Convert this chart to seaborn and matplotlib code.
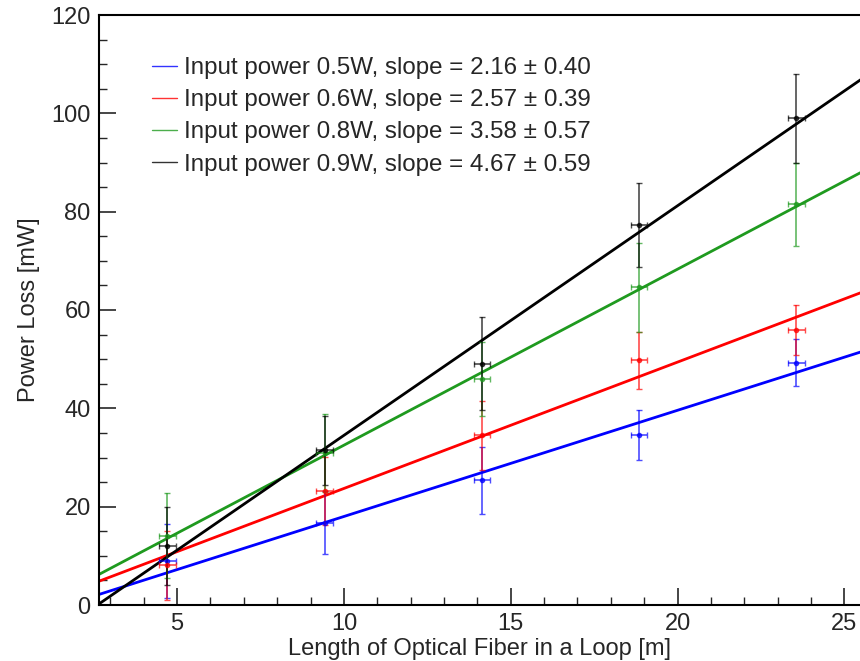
import numpy as np
import pandas as pd
import matplotlib
matplotlib.use("Agg")
import matplotlib.pyplot as plt
import seaborn as sns
from matplotlib.ticker import MultipleLocator
from matplotlib.lines import Line2D

# ---- data ----
fiber_length = [4.71, 9.42, 14.14, 18.85, 23.56]
length_err = [0.25, 0.25, 0.25, 0.25, 0.25]

power_labels = ["0.5W", "0.6W", "0.8W", "0.9W"]
loss_05 = [9.0, 16.7, 25.4, 34.5, 49.3]
err_05 = [7.5, 6.4, 6.8, 5.1, 4.8]
loss_06 = [8.1, 23.2, 34.5, 49.8, 55.9]
err_06 = [7.0, 7.0, 7.0, 5.8, 5.1]
loss_08 = [14.1, 30.9, 45.9, 64.6, 81.5]
err_08 = [8.7, 7.9, 7.5, 9.0, 8.5]
loss_09 = [12.0, 31.5, 49.1, 77.3, 99.0]
err_09 = [8.0, 7.0, 9.4, 8.5, 9.1]

fit_slopes = [2.16, 2.57, 3.58, 4.67]
fit_slope_errs = [0.40, 0.39, 0.57, 0.59]
fit_intercepts = [-3.6, -2.0, -3.3, -12.2]

colors = ["#0000ff", "#ff0000", "#1f9a1f", "#000000"]
x_min, x_max = 2.66, 25.5

sns.set_style("white")
plt.rcParams["font.family"] = ["Liberation Sans", "DejaVu Sans"]

fig = plt.figure(figsize=(8.6, 6.61), dpi=100)
ax = fig.add_axes([99 / 860, 1 - 605 / 661, 762 / 860, 590 / 661])

# fit lines via seaborn
xs = np.linspace(x_min, x_max, 50)
rows = []
for lab, s, se, b in zip(power_labels, fit_slopes, fit_slope_errs, fit_intercepts):
    name = f"Input power {lab}, slope = {s:.2f} \u00b1 {se:.2f}"
    for xv in xs:
        rows.append({"x": xv, "y": s * xv + b, "series": name})
fit_df = pd.DataFrame(rows)
sns.lineplot(data=fit_df, x="x", y="y", hue="series", palette=colors,
             linewidth=2.0, ax=ax, legend=False, zorder=2)

series = [(loss_05, err_05), (loss_06, err_06), (loss_08, err_08), (loss_09, err_09)]
for (ys, es), c in zip(series, colors):
    ax.errorbar(fiber_length, ys, yerr=es, xerr=length_err, fmt="o", color=c,
                markersize=3, elinewidth=1.2, capsize=2.5, capthick=1.0,
                alpha=0.7, zorder=3)

# legend
handles = [Line2D([0], [0], color=c, lw=1.0, alpha=0.8) for c in colors]
labels = [f"Input power {lab}, slope = {s:.2f} \u00b1 {se:.2f}"
          for lab, s, se in zip(power_labels, fit_slopes, fit_slope_errs)]
ax.legend(handles, labels, loc="upper left", bbox_to_anchor=(0.057, 0.945),
          frameon=False, fontsize=17.4, handlelength=1.05, handletextpad=0.28,
          labelspacing=0.42, borderaxespad=0)

ax.set_xlim(x_min, x_max)
ax.set_ylim(0, 120)
ax.xaxis.set_major_locator(MultipleLocator(5))
ax.xaxis.set_minor_locator(MultipleLocator(1))
ax.yaxis.set_major_locator(MultipleLocator(20))
ax.yaxis.set_minor_locator(MultipleLocator(5))
ax.tick_params(which="major", direction="in", length=12, width=1.2,
               labelsize=17, pad=6, bottom=True, left=True)
ax.tick_params(which="minor", direction="in", length=6, width=1.0,
               bottom=True, left=True)
for side in ["left", "bottom", "top"]:
    ax.spines[side].set_linewidth(1.5)
    ax.spines[side].set_color("black")
ax.spines["right"].set_visible(False)

ax.set_xlabel("Length of Optical Fiber in a Loop [m]", fontsize=17, labelpad=2)
ax.set_ylabel("Power Loss [mW]", fontsize=17, labelpad=8)

fig.savefig("out.png", dpi=100)
